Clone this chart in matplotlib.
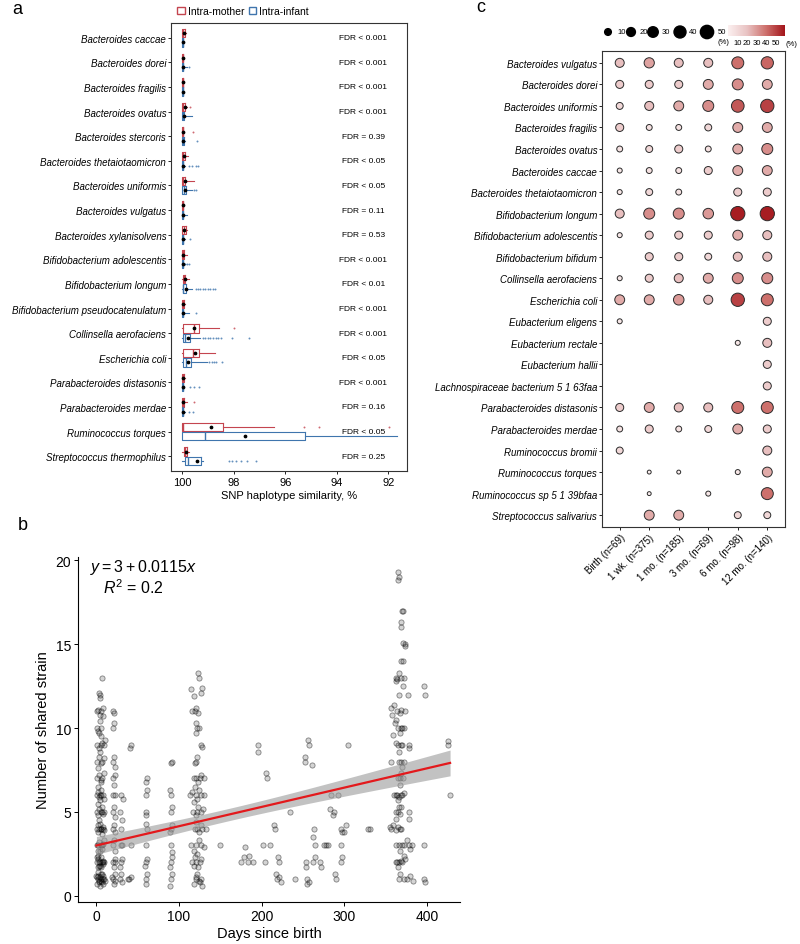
import numpy as np
import matplotlib
matplotlib.use('Agg')
import matplotlib.pyplot as plt
from matplotlib.colors import LinearSegmentedColormap, Normalize
from matplotlib.patches import Patch
import matplotlib.cm as cm

plt.rcParams['font.family'] = ['Liberation Sans', 'DejaVu Sans']
plt.rcParams['mathtext.fontset'] = 'custom'
plt.rcParams['mathtext.rm'] = 'Liberation Sans'
plt.rcParams['mathtext.it'] = 'Liberation Sans:italic'

# ---------------- panel a data (SNP haplotype similarity, %) ----------------
species_a = ['Bacteroides caccae', 'Bacteroides dorei', 'Bacteroides fragilis', 'Bacteroides ovatus',
             'Bacteroides stercoris', 'Bacteroides thetaiotaomicron', 'Bacteroides uniformis',
             'Bacteroides vulgatus', 'Bacteroides xylanisolvens', 'Bifidobacterium adolescentis',
             'Bifidobacterium longum', 'Bifidobacterium pseudocatenulatum', 'Collinsella aerofaciens',
             'Escherichia coli', 'Parabacteroides distasonis', 'Parabacteroides merdae',
             'Ruminococcus torques', 'Streptococcus thermophilus']
fdr_labels = ['FDR < 0.001', 'FDR < 0.001', 'FDR < 0.001', 'FDR < 0.001', 'FDR = 0.39', 'FDR < 0.05',
              'FDR < 0.05', 'FDR = 0.11', 'FDR = 0.53', 'FDR < 0.001', 'FDR < 0.01', 'FDR < 0.001',
              'FDR < 0.001', 'FDR < 0.05', 'FDR < 0.001', 'FDR = 0.16', 'FDR < 0.05', 'FDR = 0.25']

# intra-mother
m_box_hi = [99.99, 99.99, 99.99, 99.99, 99.99, 99.99, 99.99, 99.99, 99.99, 99.99, 99.96, 99.99, 99.96, 99.96, 99.99, 99.99, 100.0, 99.94]
m_box_lo = [99.88, 99.95, 99.96, 99.87, 99.95, 99.90, 99.87, 99.95, 99.86, 99.91, 99.87, 99.92, 99.34, 99.34, 99.92, 99.93, 98.43, 99.80]
m_med = [99.96, 99.98, 99.98, 99.95, 99.98, 99.96, 99.95, 99.98, 99.94, 99.96, 99.93, 99.97, 99.55, 99.57, 99.97, 99.97, 99.95, 99.87]
m_mean = [99.93, 99.97, 99.98, 99.90, 99.95, 99.93, 99.90, 99.97, 99.92, 99.95, 99.90, 99.95, 99.52, 99.50, 99.95, 99.95, 98.88, 99.86]
m_whis_lo = [99.85, 99.92, 99.94, 99.80, 99.92, 99.78, 99.55, 99.92, 99.80, 99.80, 99.74, 99.88, 98.58, 98.72, 99.87, 99.80, 96.45, 99.75]
m_fliers = [[], [], [], [99.7], [99.57], [], [], [], [], [], [], [], [98.0], [], [], [99.55],
            [95.29, 94.68, 91.96], []]

# intra-infant
i_box_hi = [99.99, 99.99, 99.99, 99.99, 99.99, 99.99, 99.99, 99.99, 99.99, 99.99, 99.97, 99.99, 99.96, 99.96, 99.99, 99.99, 100.0, 99.87]
i_box_lo = [99.96, 99.95, 99.97, 99.93, 99.94, 99.95, 99.86, 99.96, 99.95, 99.95, 99.84, 99.96, 99.68, 99.65, 99.97, 99.96, 95.22, 99.26]
i_med = [99.98, 99.98, 99.98, 99.97, 99.97, 99.98, 99.94, 99.98, 99.97, 99.97, 99.95, 99.98, 99.90, 99.85, 99.98, 99.98, 99.12, 99.78]
i_mean = [99.97, 99.96, 99.98, 99.94, 99.95, 99.96, 99.90, 99.97, 99.95, 99.96, 99.85, 99.96, 99.76, 99.77, 99.96, 99.97, 97.58, 99.42]
i_whis_lo = [99.93, 99.80, 99.94, 99.62, 99.90, 99.90, 99.62, 99.80, 99.90, 99.90, 99.60, 99.75, 99.30, 99.03, 99.93, 99.90, 91.67, 99.20]
i_fliers = [[], [99.75], [], [], [99.42], [99.74, 99.61, 99.48, 99.39], [99.55, 99.48], [], [99.7],
            [99.87, 99.8, 99.74], [99.48, 99.4, 99.3, 99.2, 99.1, 99.0, 98.9, 98.8, 98.71], [99.48],
            [99.2, 99.1, 99.0, 98.9, 98.8, 98.7, 98.6, 98.5, 98.05, 97.42],
            [98.95, 98.85, 98.75, 98.7, 98.45], [99.68, 99.55, 99.35], [99.74, 99.57], [],
            [98.2, 98.05, 97.9, 97.7, 97.5, 97.15]]

# ---------------- panel b data (days since birth, number of shared strains) ----------------
shared_points = [
    # birth / first days
    (0.5, 0.7), (1.5, 1.0), (2.5, 1.2), (3.5, 0.8), (4.5, 1.1), (5.5, 0.9), (6.5, 1.3), (7.5, 1.0), (8.5, 0.7), (2, 1.4),
    (4, 0.6), (6, 1.0), (8, 1.2), (1, 1.1), (3, 0.9), (5, 1.3), (7, 0.8), (9, 1.0), (0, 1.2), (10, 0.9),
    (0.5, 2.0), (1.5, 1.7), (2.5, 2.2), (3.5, 2.0), (4.5, 1.8), (5.5, 2.3), (6.5, 2.0), (7.5, 1.9), (8.5, 2.1), (2, 2.4),
    (4, 2.0), (6, 1.7), (8, 2.0), (1, 2.3), (3, 1.8), (9.5, 2.0),
    (0.5, 3.0), (2, 2.7), (3.5, 3.2), (5, 3.0), (6.5, 2.8), (8, 3.1), (9.5, 3.3), (1.5, 3.0), (4.5, 2.7), (7, 3.0),
    (0.5, 4.0), (1.5, 4.2), (2.5, 3.8), (3.5, 4.0), (4.5, 4.3), (5.5, 4.0), (6.5, 3.7), (7.5, 4.0), (8.5, 4.1), (3, 4.5),
    (6, 4.0), (9, 3.9),
    (0.5, 5.0), (2, 4.8), (3.5, 5.2), (5, 5.0), (6.5, 5.3), (8, 4.9), (9.5, 5.0), (1.5, 5.5), (4.5, 5.7), (7, 5.0),
    (0.5, 6.0), (1.5, 6.2), (3, 5.9), (4.5, 6.0), (6, 6.3), (7.5, 6.0), (9, 5.8), (2.5, 6.5), (5.5, 6.0),
    (1, 7.0), (3, 7.2), (5, 6.9), (7, 7.0), (9, 7.3), (2, 7.6), (6, 6.8),
    (1, 8.0), (3, 8.3), (5, 7.9), (7, 8.0), (9, 8.2), (4, 8.6),
    (1, 9.0), (3, 8.8), (5, 9.0), (7, 9.1), (9, 9.0), (10.5, 9.3), (6, 9.5),
    (1, 10.0), (2.5, 9.8), (4, 10.4), (6, 10.0), (3, 9.7),
    (0.5, 11.0), (2, 11.1), (4, 10.8), (6, 11.0), (8, 11.2), (8.5, 10.7),
    (3, 12.1), (4, 11.8), (4.5, 12.0), (7, 13.0),
    # ~3 weeks
    (20, 1.0), (21, 0.7), (22, 1.3), (23, 0.9), (19, 1.1), (20, 2.0), (22, 2.2), (21, 1.7), (23, 2.0), (20, 3.0),
    (22, 2.7), (21, 3.3), (20, 4.0), (22, 3.8), (21, 4.2), (20, 5.0), (22, 4.7), (21, 5.3), (20, 6.0), (23, 6.0),
    (21, 6.6), (20, 7.0), (22, 7.2), (20, 8.0), (21, 8.3), (22, 7.7), (20, 10.0), (21, 10.3), (20, 11.0), (21, 10.9),
    # 1 month
    (29, 1.0), (30, 1.3), (31, 0.8), (30, 2.0), (31, 2.2), (29, 1.7), (30, 3.0), (31, 3.0), (30, 4.0), (31, 4.5),
    (30, 6.0), (32, 5.8), (28, 5.0),
    (38, 1.0), (40, 1.0), (42, 1.1), (42, 3.0), (41, 8.8), (42, 9.0),
    # 2 months
    (60, 0.7), (60, 1.0), (61, 1.3), (60, 2.0), (61, 2.2), (59, 1.8), (60, 3.0), (61, 4.0), (60, 4.3), (60, 5.0),
    (60, 6.0), (61, 6.3), (60, 6.8), (61, 7.0), (60, 4.8),
    # 3 months
    (89, 0.6), (90, 1.0), (91, 1.3), (90, 2.0), (91, 2.3), (89, 1.7), (90, 3.0), (91, 2.6), (90, 4.0), (91, 4.2),
    (89, 3.8), (90, 5.0), (91, 5.3), (89, 6.3), (90, 6.0), (91, 8.0), (90, 7.9),
    # 4 months
    (118, 0.7), (120, 1.0), (122, 1.3), (124, 0.9), (126, 1.0), (128, 0.6), (121, 1.1), (125, 0.8),
    (116, 2.0), (119, 2.3), (121, 2.0), (123, 1.7), (125, 2.0), (127, 2.2), (122, 2.5), (118, 1.8),
    (115, 3.0), (118, 2.7), (121, 3.0), (124, 3.3), (127, 3.0), (130, 2.9),
    (119, 4.0), (122, 4.0), (124, 3.8), (126, 4.2), (128, 4.0), (133, 4.0), (121, 4.4),
    (117, 5.0), (120, 4.8), (122, 5.0), (123, 5.3), (126, 5.0), (129, 5.2),
    (113, 6.0), (116, 6.2), (120, 6.0), (122, 5.8), (124, 6.3), (127, 6.0), (130, 6.0), (118, 5.6),
    (118, 7.0), (121, 7.0), (123, 6.8), (125, 7.0), (127, 7.2), (130, 7.0), (119, 6.5),
    (119, 7.9), (122, 8.3), (121, 8.0),
    (120, 9.7), (122, 10.0), (124, 10.0), (121, 10.3), (126, 9.0), (128, 8.9),
    (116, 11.0), (119, 11.0), (121, 11.2), (123, 10.9),
    (115, 12.3), (118, 11.9), (127, 12.1), (128, 12.4), (123, 13.3), (124, 13.0),
    # 5-11 months
    (150, 3.0), (175, 2.0), (178, 2.3), (180, 2.9), (183, 2.0), (185, 2.4), (190, 2.0), (195, 9.0), (195, 8.6),
    (202, 3.0), (204, 2.0), (205, 7.3), (207, 7.0), (210, 3.0), (215, 4.2), (216, 4.0), (217, 1.3), (218, 1.0),
    (220, 2.3), (221, 2.0), (221, 1.1), (223, 0.8), (234, 5.0), (240, 1.0),
    (252, 8.3), (252, 8.0), (256, 9.3), (257, 9.0), (254, 2.0), (254, 1.7), (255, 0.7), (257, 0.8), (255, 1.0),
    (261, 7.8), (263, 4.0), (262, 3.5), (264, 3.0), (262, 2.0), (264, 2.3), (270, 2.0), (272, 1.7),
    (275, 3.0), (278, 3.0), (280, 3.0), (284, 6.0), (283, 5.2), (286, 4.8), (287, 5.0), (289, 1.3), (290, 1.0),
    (292, 6.0), (296, 4.0), (297, 3.8), (296, 3.0), (297, 2.3), (296, 2.0), (300, 3.8), (302, 4.2), (304, 9.0),
    (329, 4.0), (331, 4.0),
    # 12 months
    (365, 19.3), (366, 19.0), (365, 18.8), (370, 17.0), (371, 17.0), (368, 16.3), (369, 16.0), (371, 15.1),
    (373, 15.0), (374, 14.9), (368, 14.0), (371, 14.0), (366, 13.3), (362, 13.0), (364, 12.9), (369, 13.0),
    (372, 13.0), (363, 12.8), (371, 12.5), (366, 12.0), (377, 12.0),
    (356, 11.2), (360, 11.4), (364, 11.0), (367, 10.9), (369, 11.1), (373, 11.0), (358, 10.8), (363, 10.5),
    (361, 10.3), (365, 10.0), (368, 10.0), (370, 10.0), (372, 10.0), (359, 9.6), (367, 9.7),
    (365, 9.0), (368, 9.0), (370, 9.0), (363, 9.1), (378, 9.0), (378, 8.8), (366, 8.6),
    (357, 8.0), (366, 8.0), (368, 8.0), (372, 8.0), (370, 7.7), (368, 7.3), (365, 7.0), (367, 7.0), (371, 7.0),
    (367, 6.6), (360, 6.0), (362, 6.0), (364, 6.0), (366, 5.9), (368, 6.0), (370, 6.0), (372, 6.1), (365, 5.7),
    (366, 5.3), (363, 5.0), (365, 5.0), (367, 4.9), (368, 5.3), (378, 5.0), (378, 4.6), (362, 4.6), (359, 4.2),
    (365, 4.1), (367, 4.0), (369, 4.0), (357, 4.0), (355, 4.1), (362, 3.9),
    (363, 3.0), (366, 3.0), (370, 3.0), (372, 3.0), (376, 3.3), (378, 3.0), (380, 2.8), (382, 3.0), (367, 2.7),
    (372, 2.4), (362, 2.0), (364, 2.0), (366, 2.0), (368, 2.1), (370, 2.0), (374, 2.2), (365, 1.7), (367, 1.3),
    (366, 1.0), (372, 1.0), (376, 1.0), (380, 1.2), (383, 0.9),
    (396, 3.0), (397, 1.0), (398, 0.8), (396, 12.5), (398, 12.0), (426, 9.2), (426, 9.0), (428, 6.0),
]
fit_intercept = 3.0
fit_slope = 0.0115
fit_r2 = 0.2

# ---------------- panel c data (% sharing per time point) ----------------
species_c = ['Bacteroides vulgatus', 'Bacteroides dorei', 'Bacteroides uniformis', 'Bacteroides fragilis',
             'Bacteroides ovatus', 'Bacteroides caccae', 'Bacteroides thetaiotaomicron', 'Bifidobacterium longum',
             'Bifidobacterium adolescentis', 'Bifidobacterium bifidum', 'Collinsella aerofaciens',
             'Escherichia coli', 'Eubacterium eligens', 'Eubacterium rectale', 'Eubacterium hallii',
             'Lachnospiraceae bacterium 5 1 63faa', 'Parabacteroides distasonis', 'Parabacteroides merdae',
             'Ruminococcus bromii', 'Ruminococcus torques', 'Ruminococcus sp 5 1 39bfaa',
             'Streptococcus salivarius']
timepoints = ['Birth (n=69)', '1 wk. (n=375)', '1 mo. (n=185)', '3 mo. (n=69)', '6 mo. (n=98)', '12 mo. (n=140)']
N = None
share_pct = [
    [21, 28, 21, 21, 40, 42],
    [16, 16, 16, 26, 33, 26],
    [11, 21, 26, 33, 45, 50],
    [16, 7, 7, 11, 26, 26],
    [7, 11, 16, 7, 26, 33],
    [4, 7, 7, 16, 26, 26],
    [4, 11, 7, N, 16, 16],
    [21, 33, 33, 30, 58, 58],
    [4, 16, 16, 16, 26, 21],
    [N, 16, 16, 11, 21, 21],
    [4, 16, 21, 26, 33, 33],
    [26, 26, 30, 21, 50, 40],
    [4, N, N, N, N, 16],
    [N, N, N, N, 4, 21],
    [N, N, N, N, N, 16],
    [N, N, N, N, N, 16],
    [16, 26, 21, 21, 40, 40],
    [7, 16, 7, 11, 26, 16],
    [11, N, N, N, N, 21],
    [N, 1, 1, N, 4, 26],
    [N, 1, N, 4, N, 40],
    [N, 26, 26, N, 11, 11],
]
size_legend = [10, 20, 30, 40, 50]

# ---------------- figure ----------------
W, H = 800, 945
fig = plt.figure(figsize=(W / 100, H / 100), dpi=100)


def px_axes(l, t, r, b):
    return fig.add_axes([l / W, 1 - b / H, (r - l) / W, (b - t) / H])


red = '#c4454f'
blue = '#3f75ad'
spine_col = '#333333'

# ---- panel a ----
ax_a = px_axes(171, 24, 407, 472)
rows = np.arange(1, len(species_a) + 1)


def make_stats(lo, hi, med, mean, wlo, fl):
    return [dict(q1=lo[k], q3=hi[k], med=med[k], mean=mean[k], whislo=wlo[k], whishi=100.0, fliers=fl[k])
            for k in range(len(lo))]


for stats, off, col in [(make_stats(m_box_lo, m_box_hi, m_med, m_mean, m_whis_lo, m_fliers), -0.19, red),
                        (make_stats(i_box_lo, i_box_hi, i_med, i_mean, i_whis_lo, i_fliers), 0.19, blue)]:
    ax_a.bxp(stats, positions=rows + off, widths=0.34, orientation='horizontal', showmeans=True,
             showcaps=False, manage_ticks=False,
             boxprops=dict(color=col, linewidth=0.8),
             whiskerprops=dict(color=col, linewidth=0.8),
             medianprops=dict(color=col, linewidth=1.0),
             meanprops=dict(marker='o', markerfacecolor='black', markeredgecolor='black', markersize=1.7),
             flierprops=dict(marker='o', markerfacecolor=col, markeredgecolor='none', markersize=1.4,
                             alpha=0.8))

for r, t in zip(rows, fdr_labels):
    ax_a.text(92.98, r, t, ha='center', va='center', fontsize=6)

ax_a.set_xlim(100.43, 91.28)
ax_a.set_ylim(18.6, 0.4)
ax_a.set_yticks(rows)
ax_a.set_yticklabels(species_a, fontstyle='italic', fontsize=7)
ax_a.set_xticks([100, 98, 96, 94, 92])
ax_a.tick_params(axis='x', labelsize=8, length=2.5, width=0.6, pad=2)
ax_a.tick_params(axis='y', length=2, width=0.6, pad=1.5)
ax_a.set_xlabel('SNP haplotype similarity, %', fontsize=8, labelpad=2)
for s in ax_a.spines.values():
    s.set_linewidth(0.8)
    s.set_color(spine_col)

fig.legend(handles=[Patch(facecolor='white', edgecolor=red, label='Intra-mother'),
                    Patch(facecolor='white', edgecolor=blue, label='Intra-infant')],
           loc='center', bbox_to_anchor=(243 / W, 1 - 12 / H), ncol=2, frameon=False, fontsize=7.5,
           handlelength=0.7, handleheight=0.7, handletextpad=0.3, columnspacing=0.4)

fig.text(12 / W, 1 - 10 / H, 'a', fontsize=13, va='center', ha='left')
fig.text(18 / W, 1 - 526 / H, 'b', fontsize=13, va='center', ha='left')
fig.text(476 / W, 1 - 8 / H, 'c', fontsize=13, va='center', ha='left')

# ---- panel b ----
ax_b = px_axes(78, 558, 460, 903)
days = np.array([p[0] for p in shared_points])
n_shared = np.array([p[1] for p in shared_points])
ax_b.scatter(days, n_shared, s=14, facecolor=(0, 0, 0, 0.17), edgecolor=(0, 0, 0, 0.45), linewidth=0.6,
             zorder=2)

xf = np.linspace(0, days.max(), 200)
yf = fit_intercept + fit_slope * xf
resid = n_shared - (fit_intercept + fit_slope * days)
sigma = np.sqrt(np.sum(resid ** 2) / (len(days) - 2))
sxx = np.sum((days - days.mean()) ** 2)
se = sigma * np.sqrt(1 / len(days) + (xf - days.mean()) ** 2 / sxx)
ax_b.fill_between(xf, yf - 1.96 * se, yf + 1.96 * se, color='#9a9a9a', alpha=0.6, linewidth=0, zorder=3)
ax_b.plot(xf, yf, color='#e3191c', linewidth=1.6, zorder=4)

ax_b.set_xlim(-22.3, 440)
ax_b.set_ylim(-0.37, 20.2)
ax_b.set_xticks([0, 100, 200, 300, 400])
ax_b.set_yticks([0, 5, 10, 15, 20])
ax_b.tick_params(labelsize=10, length=3, width=0.7, pad=2)
ax_b.set_xlabel('Days since birth', fontsize=10.5, labelpad=2)
ax_b.set_ylabel('Number of shared strain', fontsize=10.5, labelpad=4)
for side in ['top', 'right']:
    ax_b.spines[side].set_visible(False)
for side in ['left', 'bottom']:
    ax_b.spines[side].set_linewidth(0.8)
ax_b.text(0.031, 0.972, r'$y = 3 + 0.0115x$', transform=ax_b.transAxes, fontsize=11.5, va='center')
ax_b.text(0.065, 0.913, r'$R^2$ = 0.2', transform=ax_b.transAxes, fontsize=11.5, va='center')

# ---- panel c ----
ax_c = px_axes(602, 52, 785, 528)
cmap = LinearSegmentedColormap.from_list('shr', ['#fbf0f0', '#e9c3c3', '#cd706c', '#a3141a'])
norm = Normalize(0, 60)


def dot_size(v):
    return 0.518 * (12 + 3.3 * np.asarray(v, dtype=float))


cx, cy, cv = [], [], []
for i, row in enumerate(share_pct):
    for j, v in enumerate(row):
        if v is not None:
            cx.append(j + 1)
            cy.append(i + 1)
            cv.append(v)
ax_c.scatter(cx, cy, s=dot_size(cv), c=cv, cmap=cmap, norm=norm, edgecolor='#2b2b2b', linewidth=0.7, zorder=3)
ax_c.set_xlim(0.4, 6.6)
ax_c.set_ylim(22.55, 0.45)
ax_c.set_yticks(np.arange(1, len(species_c) + 1))
ax_c.set_yticklabels(species_c, fontstyle='italic', fontsize=7)
ax_c.set_xticks(np.arange(1, len(timepoints) + 1))
ax_c.set_xticklabels(timepoints, rotation=45, ha='right', rotation_mode='anchor', fontsize=7)
ax_c.tick_params(length=2, width=0.6, pad=1.5)
for s in ax_c.spines.values():
    s.set_linewidth(0.8)
    s.set_color(spine_col)

# size legend
ax_sl = px_axes(600, 22, 730, 46)
ax_sl.set_xlim(0, 130)
ax_sl.set_ylim(24, 0)
ax_sl.axis('off')
key_x = [8, 31, 53, 80, 107]
ax_sl.scatter(key_x, [11] * 5, s=dot_size(size_legend), color='black')
for kx, v in zip(key_x, size_legend):
    ax_sl.text(kx + 9 if v < 50 else kx + 11, 11, str(v), fontsize=5.5, va='center', ha='left')
ax_sl.text(118, 20, '(%)', fontsize=5.5, va='center', ha='left')

# colour legend
ax_cb = px_axes(728, 26, 785, 37)
cb = fig.colorbar(cm.ScalarMappable(norm=norm, cmap=cmap), cax=ax_cb, orientation='horizontal')
cb.set_ticks([10, 20, 30, 40, 50])
cb.ax.tick_params(labelsize=5.5, length=0, pad=2)
cb.outline.set_visible(False)
fig.text(786 / W, 1 - 44 / H, '(%)', fontsize=5.5, va='center', ha='left')

fig.savefig('out.png', dpi=100)
